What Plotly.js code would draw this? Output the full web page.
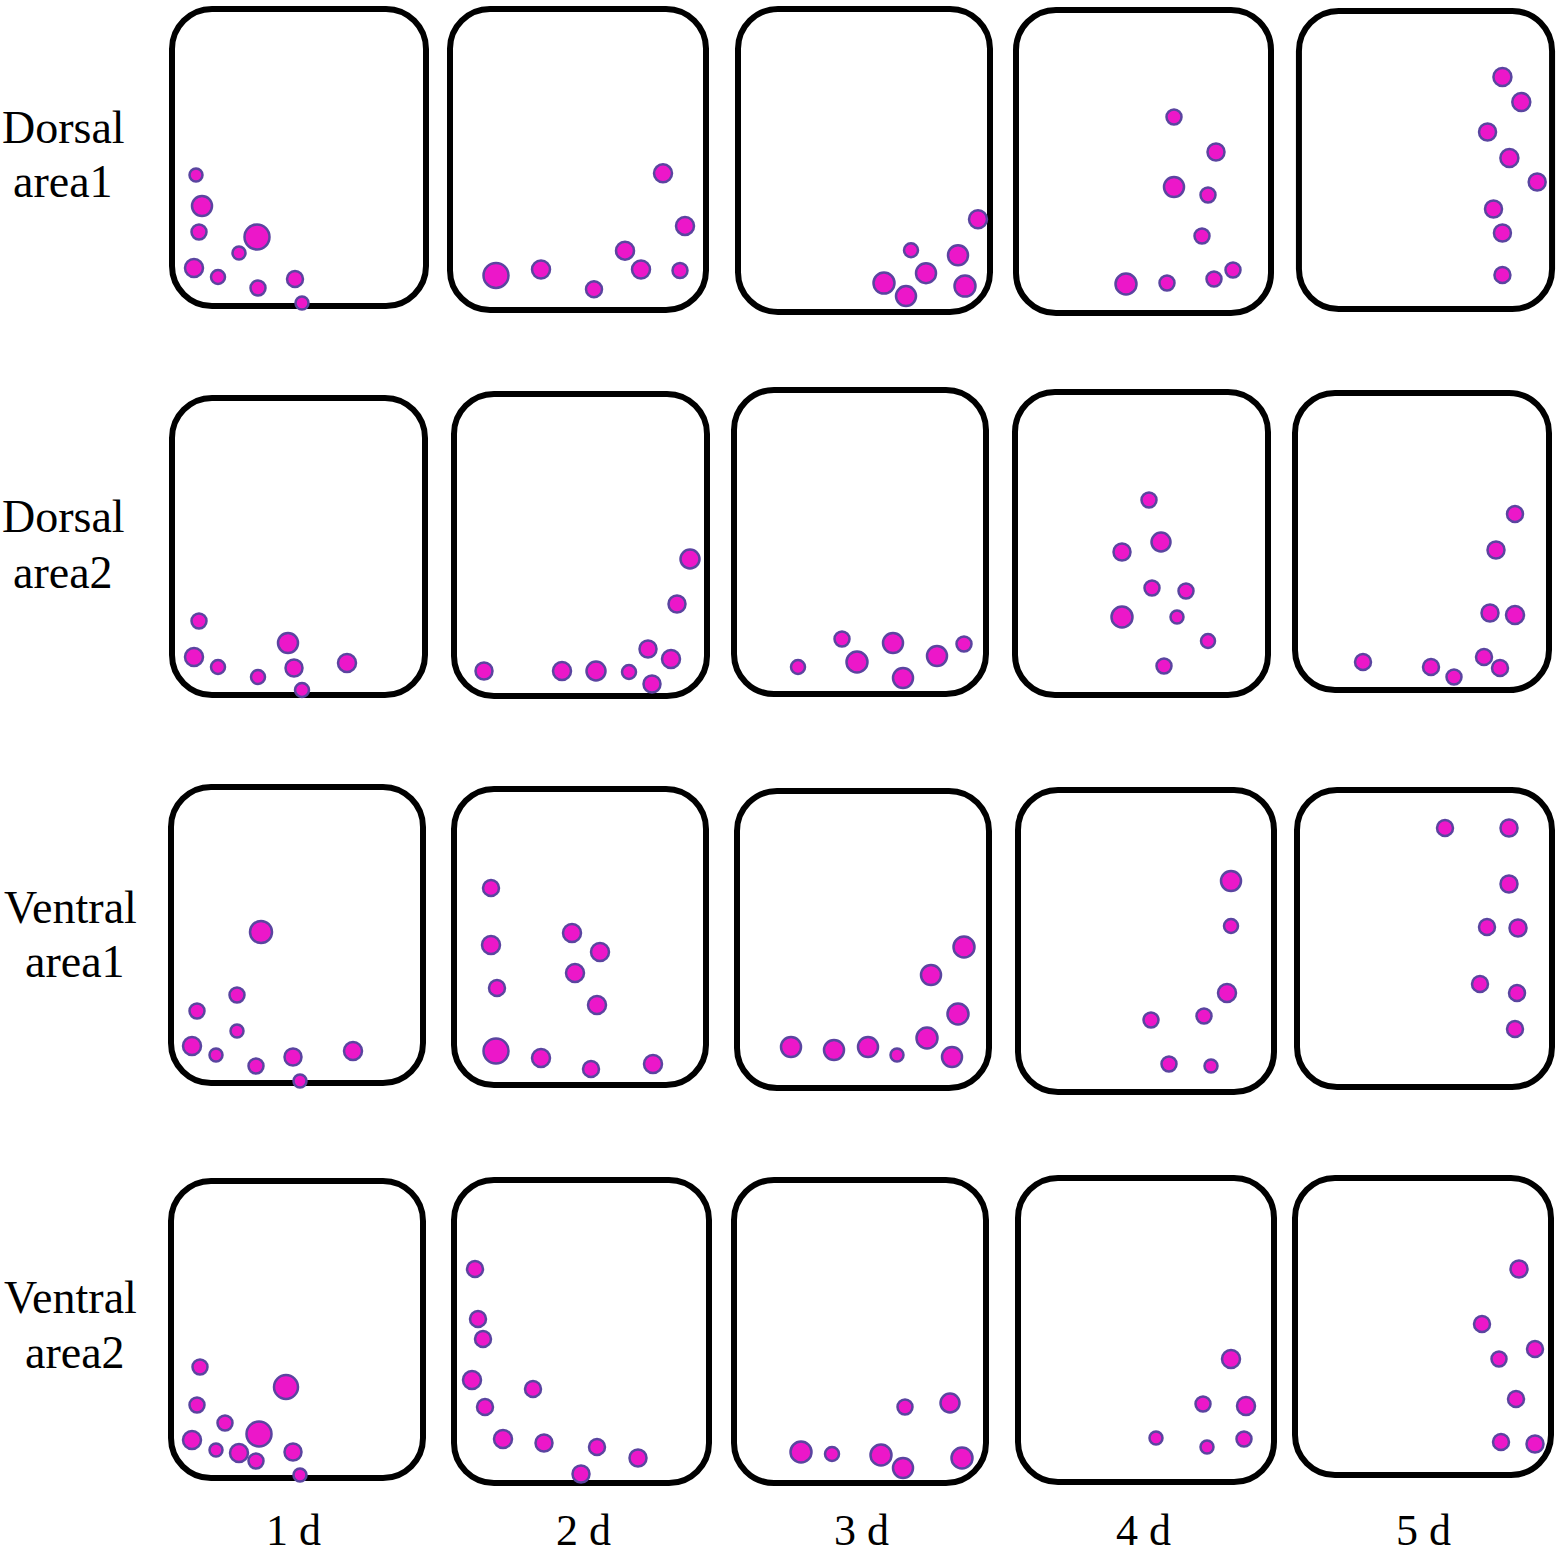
<!DOCTYPE html>
<html>
<head>
<meta charset="utf-8">
<script src="https://cdn.plot.ly/plotly-3.0.1.min.js"></script>
<style>html,body{margin:0;padding:0;background:#fff;}#chart{width:1561px;height:1556px;}</style>
</head>
<body>
<div id="chart"></div>
<script>
// ---------- DATA (cell positions inside each arena, px from arena's top-left; diameters in px) ----------
const days = ["1 d", "2 d", "3 d", "4 d", "5 d"];
const areaNames = [["Dorsal", "area1"], ["Dorsal", "area2"], ["Ventral", "area1"], ["Ventral", "area2"]];

const dorsal1X = [
  [27, 33, 30, 88, 70, 25, 49, 126, 89, 133],
  [216, 238, 178, 94, 49, 194, 233, 147],
  [243, 176, 223, 191, 149, 171, 230],
  [161, 203, 161, 195, 189, 220, 201, 154, 113],
  [208, 227, 193, 215, 243, 199, 208, 208]
];
const dorsal1Y = [
  [169, 200, 226, 231, 247, 262, 271, 273, 282, 297],
  [169, 222, 247, 266, 272, 266, 267, 286],
  [214, 245, 250, 268, 278, 291, 281],
  [110, 145, 180, 188, 229, 263, 272, 276, 277],
  [69, 94, 124, 150, 174, 201, 225, 267]
];
const dorsal1D = [
  [13, 20, 15, 25, 13, 18, 14, 16, 15, 13],
  [18, 18, 18, 18, 25, 18, 15, 16],
  [18, 14, 20, 20, 21, 20, 21],
  [15, 17, 20, 15, 15, 15, 15, 15, 21],
  [18, 18, 17, 18, 17, 17, 17, 16]
];

const dorsal2X = [
  [30, 25, 49, 119, 89, 125, 178, 133],
  [239, 226, 33, 111, 145, 178, 197, 220, 201],
  [67, 111, 126, 162, 172, 206, 233],
  [137, 149, 110, 140, 174, 110, 165, 196, 152],
  [223, 204, 198, 223, 71, 139, 162, 192, 208]
];
const dorsal2Y = [
  [226, 262, 272, 248, 282, 273, 268, 295],
  [168, 213, 280, 280, 280, 281, 258, 268, 293],
  [280, 252, 275, 256, 291, 269, 257],
  [111, 153, 163, 199, 202, 228, 228, 252, 277],
  [124, 160, 223, 225, 272, 277, 287, 267, 278]
];
const dorsal2D = [
  [15, 18, 14, 20, 14, 17, 18, 14],
  [19, 17, 17, 18, 19, 14, 17, 18, 17],
  [14, 15, 21, 20, 20, 20, 15],
  [15, 19, 17, 15, 15, 21, 13, 14, 15],
  [16, 17, 17, 18, 16, 16, 15, 16, 16]
];

const ventral1X = [
  [93, 69, 29, 69, 24, 48, 88, 125, 185, 132],
  [40, 40, 46, 45, 90, 140, 202, 121, 149, 124, 146],
  [57, 100, 134, 163, 193, 218, 224, 197, 230],
  [216, 216, 212, 189, 136, 154, 196],
  [151, 215, 215, 193, 224, 186, 223, 221]
];
const ventral1Y = [
  [148, 211, 227, 247, 262, 271, 282, 273, 267, 297],
  [102, 159, 202, 265, 272, 283, 278, 147, 166, 187, 219],
  [259, 262, 259, 267, 250, 269, 226, 187, 159],
  [94, 139, 206, 229, 233, 277, 279],
  [41, 41, 97, 140, 141, 197, 206, 242]
];
const ventral1D = [
  [22, 15, 15, 13, 18, 13, 15, 17, 18, 13],
  [16, 18, 16, 25, 18, 16, 18, 18, 18, 18, 18],
  [20, 20, 20, 13, 21, 20, 21, 20, 21],
  [20, 14, 18, 15, 15, 15, 13],
  [16, 17, 17, 16, 17, 16, 16, 16]
];

const ventral2X = [
  [32, 118, 29, 57, 24, 48, 71, 91, 88, 125, 132],
  [24, 27, 32, 21, 82, 34, 52, 93, 146, 187, 130],
  [70, 101, 174, 219, 150, 172, 231],
  [216, 188, 231, 141, 192, 229],
  [227, 190, 243, 207, 224, 209, 243]
];
const ventral2Y = [
  [189, 209, 227, 245, 262, 272, 275, 256, 283, 274, 297],
  [92, 142, 162, 203, 212, 230, 262, 266, 270, 281, 297],
  [275, 277, 230, 226, 278, 291, 281],
  [184, 229, 231, 263, 272, 264],
  [94, 149, 174, 184, 224, 267, 269]
];
const ventral2D = [
  [15, 24, 15, 15, 18, 13, 18, 25, 15, 17, 13],
  [16, 16, 16, 18, 16, 16, 18, 17, 16, 17, 17],
  [21, 14, 15, 19, 21, 20, 21],
  [18, 15, 18, 13, 13, 15],
  [17, 16, 16, 15, 16, 16, 17]
];

// ---------- LAYOUT GEOMETRY (page pixels of each arena's outer frame) ----------
const W = 1561, H = 1556;
const frameRects = [
  [[169, 6, 429, 309], [447, 3, 709, 313], [735, 5, 993, 315], [1013, 7, 1274, 316], [1296, 8, 1557, 312]],
  [[169, 395, 428, 698], [451, 391, 710, 699], [731, 387, 989, 697], [1012, 389, 1271, 698], [1292, 390, 1552, 693]],
  [[168, 784, 426, 1086], [451, 786, 709, 1088], [734, 788, 992, 1091], [1015, 787, 1277, 1095], [1294, 787, 1555, 1090]],
  [[168, 1178, 426, 1481], [451, 1177, 712, 1486], [731, 1177, 989, 1486], [1015, 1175, 1277, 1485], [1292, 1175, 1554, 1478]]
];
const rowX = [dorsal1X, dorsal2X, ventral1X, ventral2X];
const rowY = [dorsal1Y, dorsal2Y, ventral1Y, ventral2Y];
const rowD = [dorsal1D, dorsal2D, ventral1D, ventral2D];

const PAD = 6, LW = 6, RAD = 40;
const FONT = '"Liberation Serif", "Times New Roman", serif';
const traces = [], shapes = [], annotations = [];
const layout = {
  width: W, height: H,
  margin: {l: 0, r: 0, t: 0, b: 0},
  paper_bgcolor: '#ffffff', plot_bgcolor: 'rgba(0,0,0,0)',
  showlegend: false,
  font: {family: FONT, color: '#000'}
};

function roundedPath(w, h, inset, r) {
  const x0 = inset, y0 = inset, x1 = w - inset, y1 = h - inset, k = 0.5523 * r;
  return `M ${x0 + r} ${y0} L ${x1 - r} ${y0} C ${x1 - r + k} ${y0} ${x1} ${y0 + r - k} ${x1} ${y0 + r} ` +
    `L ${x1} ${y1 - r} C ${x1} ${y1 - r + k} ${x1 - r + k} ${y1} ${x1 - r} ${y1} ` +
    `L ${x0 + r} ${y1} C ${x0 + r - k} ${y1} ${x0} ${y1 - r + k} ${x0} ${y1 - r} ` +
    `L ${x0} ${y0 + r} C ${x0} ${y0 + r - k} ${x0 + r - k} ${y0} ${x0 + r} ${y0} Z`;
}

let n = 0;
for (let r = 0; r < 4; r++) {
  for (let c = 0; c < 5; c++) {
    n++;
    const [L, T, R, B] = frameRects[r][c];
    const w = R - L, h = B - T;
    const xa = n === 1 ? 'xaxis' : 'xaxis' + n;
    const ya = n === 1 ? 'yaxis' : 'yaxis' + n;
    const xr = n === 1 ? 'x' : 'x' + n;
    const yr = n === 1 ? 'y' : 'y' + n;
    layout[xa] = {domain: [(L - PAD) / W, (R + PAD) / W], range: [-PAD, w + PAD], visible: false, fixedrange: true, anchor: yr};
    layout[ya] = {domain: [1 - (B + PAD) / H, 1 - (T - PAD) / H], range: [h + PAD, -PAD], visible: false, fixedrange: true, anchor: xr};
    shapes.push({type: 'path', xref: xr, yref: yr, path: roundedPath(w, h, LW / 2, RAD),
      line: {color: '#000000', width: LW}, fillcolor: 'rgba(0,0,0,0)', layer: 'below'});
    traces.push({
      type: 'scatter', mode: 'markers', xaxis: xr, yaxis: yr,
      x: rowX[r][c], y: rowY[r][c], cliponaxis: false, hoverinfo: 'skip',
      marker: {size: rowD[r][c], color: '#ec17c9', opacity: 1, line: {color: '#5a45a0', width: 2.5}}
    });
  }
}

// Row labels (two lines each)
const rowLabelY = [[127, 182], [517, 572], [907, 962], [1297, 1352]];
const rowLabelX = [[63, 63], [63, 63], [70, 75], [70, 75]];
for (let r = 0; r < 4; r++) {
  for (let k = 0; k < 2; k++) {
    annotations.push({xref: 'paper', yref: 'paper', x: rowLabelX[r][k] / W, y: 1 - rowLabelY[r][k] / H,
      xanchor: 'center', yanchor: 'middle', showarrow: false, text: areaNames[r][k], borderpad: 0,
      font: {size: 46, family: FONT, color: '#000'}});
  }
}
// Day labels
const dayLabelX = [293, 583, 861, 1143, 1423];
for (let c = 0; c < 5; c++) {
  annotations.push({xref: 'paper', yref: 'paper', x: dayLabelX[c] / W, y: 0,
    xanchor: 'center', yanchor: 'bottom', showarrow: false, text: days[c], borderpad: 0,
    font: {size: 44, family: FONT, color: '#000'}});
}
layout.shapes = shapes;
layout.annotations = annotations;

Plotly.newPlot('chart', traces, layout, {staticPlot: true, displayModeBar: false});
</script>
</body>
</html>
